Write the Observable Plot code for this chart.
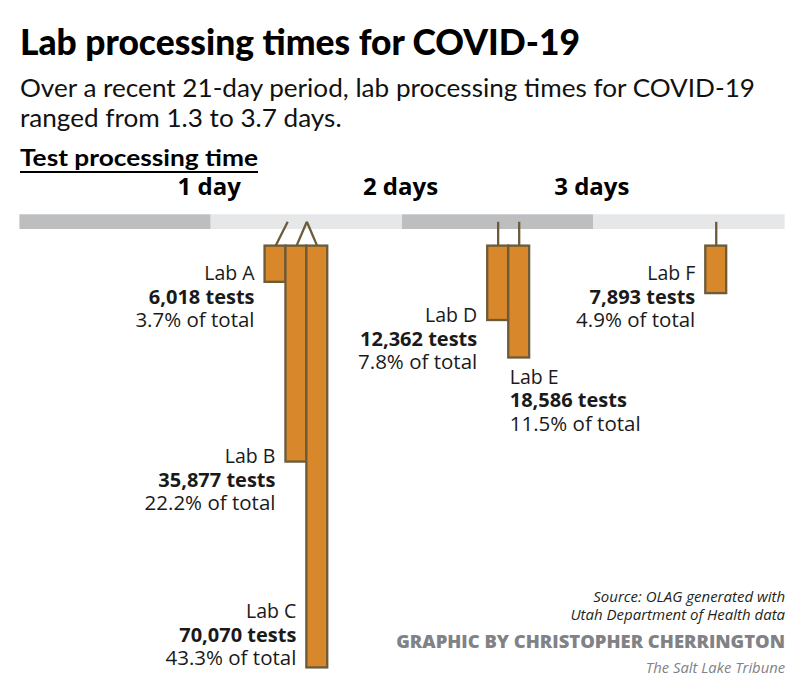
<!DOCTYPE html>
<html>
<head>
<meta charset="utf-8">
<script src="https://cdn.jsdelivr.net/npm/d3@7"></script>
<script src="https://cdn.jsdelivr.net/npm/@observablehq/plot@0.6"></script>
<style>
  html, body { margin: 0; padding: 0; background: #fff; }
  #wrap { position: relative; width: 801px; height: 699px; overflow: hidden; background: #fff; }
  .hd { position: absolute; left: 20px; white-space: nowrap; color: #000; transform-origin: 0 0; }
  #title { top: 19.5px; font: 900 36px/43.2px Lato, sans-serif; }
  .sub { font: 400 25px/30px Lato, sans-serif; color: #111; }
  #sub1 { top: 72.3px; }
  #sub2 { top: 102.3px; }
  #heading { top: 145.3px; font: 700 22px/26.4px Lato, sans-serif; text-decoration: underline; text-decoration-thickness: 2px; text-underline-offset: 5px; }
  #chart { position: absolute; left: 0; top: 175px; }
</style>
</head>
<body>
<div id="wrap">
  <div id="title" class="hd">Lab processing times for COVID-19</div>
  <div id="sub1" class="hd sub">Over a recent 21-day period, lab processing times for COVID-19</div>
  <div id="sub2" class="hd sub">ranged from 1.3 to 3.7 days.</div>
  <div id="heading" class="hd">Test processing time</div>
  <div id="chart"></div>
</div>
<script>
// ---------- DATA ----------
const labs   = ["Lab A", "Lab B", "Lab C", "Lab D", "Lab E", "Lab F"];
const days   = [1.40, 1.50, 1.50, 2.50, 2.61, 3.64];   // processing time (days)
const tests  = [6018, 35877, 70070, 12362, 18586, 7893];
const shares = ["3.7%", "22.2%", "43.3%", "7.8%", "11.5%", "4.9%"];
const dayTicks = [1, 2, 3];
const dayTickLabels = ["1 day", "2 days", "3 days"];
const bandStarts = [0, 1, 2, 3];
const sourceLines = ["Source: OLAG generated with", "Utah Department of Health data"];
const creditLine = "GRAPHIC BY CHRISTOPHER CHERRINGTON";
const outletLine = "The Salt Lake Tribune";

// ---------- LAYOUT ----------
const W = 801, H = 524;
const mLeft = 19.4, mRight = 16.4;
const pxPerDay = (W - mRight - mLeft) / 4;
const pxPerTest = 0.00602;
const yTop = 70.6;                         // bar top (px in svg)
const yInv = px => (px - yTop) / pxPerTest; // px -> y-domain units
const barW = 20.9 / pxPerDay;              // bar width in days
const lineGap = [0, 23.5, 46.5];
const labelLayout = {
  "Lab A": {side: "left", dy: -8.5},
  "Lab B": {side: "left", dy: -5},
  "Lab C": {side: "left", dy: -56},
  "Lab D": {side: "left", dy: -4.5},
  "Lab E": {side: "below", dy: 19.5},
  "Lab F": {side: "left", dy: -20}
};
const FILL = "#d8872b", STROKE = "#6b5b3a";

const data = labs.map((lab, i) => ({lab, days: days[i], tests: tests[i], share: shares[i]}));
// place bars side by side: same times spread, overlapping bars pushed left
for (const [t, g] of d3.groups(data, d => d.days)) {
  g.forEach((d, j) => d.xc = t + (j - (g.length - 1) / 2) * barW);
}
const sorted = data.slice().sort((a, b) => a.xc - b.xc);
for (let i = sorted.length - 2; i >= 0; i--) {
  if (sorted[i].xc > sorted[i + 1].xc - barW) sorted[i].xc = sorted[i + 1].xc - barW;
}
data.forEach(d => { d.layout = labelLayout[d.lab]; });

const lines = [
  {key: d => d.lab, weight: 400, size: 19.5},
  {key: d => d.tests.toLocaleString("en-US") + " tests", weight: 700, size: 20},
  {key: d => d.share + " of total", weight: 400, size: 20.5}
];
const labelMarks = [];
lines.forEach((ln, k) => {
  for (const side of ["left", "below"]) {
    labelMarks.push(Plot.text(data.filter(d => d.layout.side === side), {
      x: d => d.xc - barW / 2,
      y: d => d.tests + (d.layout.dy + lineGap[k]) / pxPerTest,
      text: ln.key,
      textAnchor: side === "left" ? "end" : "start",
      dx: side === "left" ? -10.5 : 1,
      fontSize: ln.size,
      fontWeight: ln.weight,
      fill: "#1a1a1a"
    }));
  }
});

const footer = (text, dy, opts) => Plot.text([text], {
  frameAnchor: "top-right", textAnchor: "end", lineAnchor: "middle", text: d => d, dy, ...opts
});

const chart = Plot.plot({
  width: W,
  height: H,
  marginTop: 0,
  marginBottom: 0,
  marginLeft: mLeft,
  marginRight: mRight,
  x: {domain: [0, 4], axis: null},
  y: {domain: [0, 80000], range: [yTop, yTop + 80000 * pxPerTest], axis: null},
  style: {fontFamily: "'Open Sans', sans-serif", background: "transparent", overflow: "visible"},
  marks: [
    Plot.rect(bandStarts.filter(d => d % 2 === 0), {x1: d => d, x2: d => d + 1, y1: yInv(39.3), y2: yInv(54), fill: "#bcbec0"}),
    Plot.rect(bandStarts.filter(d => d % 2 === 1), {x1: d => d, x2: d => d + 1, y1: yInv(39.3), y2: yInv(54), fill: "#e6e7e8"}),
    Plot.text(dayTicks, {x: d => d, y: () => yInv(12.3), text: (d, i) => dayTickLabels[i], dx: -2, fontSize: 24, fontWeight: 700, fill: "#000"}),
    Plot.link(data, {x1: "days", y1: () => yInv(46.3), x2: "xc", y2: () => 0, stroke: STROKE, strokeWidth: 2.3}),
    Plot.rect(data, {x1: d => d.xc - barW / 2, x2: d => d.xc + barW / 2, y1: () => 0, y2: "tests", fill: FILL, stroke: STROKE, strokeWidth: 2.3}),
    ...labelMarks,
    footer(sourceLines[0], 422, {fontSize: 15, fontStyle: "italic", fill: "#231f20"}),
    footer(sourceLines[1], 440, {fontSize: 15, fontStyle: "italic", fill: "#231f20"}),
    footer(creditLine, 467, {fontSize: 18.4, fontWeight: 800, fill: "#808285"}),
    footer(outletLine, 493, {fontSize: 14.8, fontStyle: "italic", fill: "#808285"})
  ]
});
document.getElementById("chart").appendChild(chart);

// fit header text widths to the reference
function fit() {
  const targets = [["title", 560], ["heading", 238]];
  for (const [id, w] of targets) {
    const el = document.getElementById(id);
    el.style.transform = "none";
    const cw = el.getBoundingClientRect().width;
    el.style.transform = `scaleX(${w / cw})`;
  }
  const s1 = document.getElementById("sub1"), s2 = document.getElementById("sub2");
  s1.style.transform = s2.style.transform = "none";
  const k = 735 / s1.getBoundingClientRect().width;
  s1.style.transform = s2.style.transform = `scaleX(${k})`;
}
fit();
if (document.fonts && document.fonts.ready) document.fonts.ready.then(fit);
</script>
</body>
</html>
